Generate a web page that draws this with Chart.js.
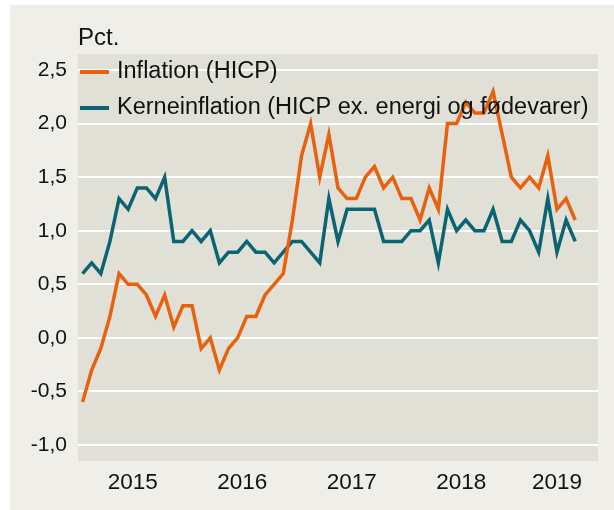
<!DOCTYPE html>
<html>
<head>
<meta charset="utf-8">
<script src="https://cdn.jsdelivr.net/npm/chart.js@4/dist/chart.umd.min.js"></script>
<style>
  html, body { margin: 0; padding: 0; background: #fff; }
  #wrap { width: 614px; height: 510px; }
</style>
</head>
<body>
<div id="wrap"><canvas id="chart" width="614" height="510"></canvas></div>
<script>
// monthly axis Jan 2015 - Sep 2019, data runs to Jul 2019
const firstYear = 2015;
const monthCount = 57;
const months = [];
for (let i = 0; i < monthCount; i++) {
	months.push((firstYear + Math.floor(i / 12)) + "-" + String(i % 12 + 1).padStart(2, "0"));
}

const inflation = [
	-0.6, -0.3, -0.1, 0.2, 0.6, 0.5, 0.5, 0.4, 0.2, 0.4, 0.1, 0.3,
	0.3, -0.1, 0.0, -0.3, -0.1, 0.0, 0.2, 0.2, 0.4, 0.5, 0.6, 1.1,
	1.7, 2.0, 1.5, 1.9, 1.4, 1.3, 1.3, 1.5, 1.6, 1.4, 1.5, 1.3,
	1.3, 1.1, 1.4, 1.2, 2.0, 2.0, 2.2, 2.1, 2.1, 2.3, 1.9, 1.5,
	1.4, 1.5, 1.4, 1.7, 1.2, 1.3, 1.1
];
const coreInflation = [
	0.6, 0.7, 0.6, 0.9, 1.3, 1.2, 1.4, 1.4, 1.3, 1.5, 0.9, 0.9,
	1.0, 0.9, 1.0, 0.7, 0.8, 0.8, 0.9, 0.8, 0.8, 0.7, 0.8, 0.9,
	0.9, 0.8, 0.7, 1.3, 0.9, 1.2, 1.2, 1.2, 1.2, 0.9, 0.9, 0.9,
	1.0, 1.0, 1.1, 0.7, 1.2, 1.0, 1.1, 1.0, 1.0, 1.2, 0.9, 0.9,
	1.1, 1.0, 0.8, 1.3, 0.8, 1.1, 0.9
];
const seriesNames = [ "Inflation (HICP)", "Kerneinflation (HICP ex. energi og fødevarer)" ];
const yTicks = [ -1.0, -0.5, 0.0, 0.5, 1.0, 1.5, 2.0, 2.5 ];
const unitLabel = "Pct.";

const colors = [ "#e8610f", "#0b6472" ];
const font = "'Liberation Sans', Arial, sans-serif";

// year labels sit in the middle of each year's months
const years = [];
months.forEach((m, i) => {
	const y = m.slice(0, 4);
	let g = years.find(e => e.label === y);
	if (!g) { g = { label: y, first: i, last: i }; years.push(g); }
	g.last = i;
});
const yearCenters = years.map(g => ({ value: (g.first + g.last) / 2, label: g.label }));

const toPoints = arr => arr.map((v, i) => ({ x: i, y: v }));

const backdrop = {
	id: "backdrop",
	beforeDraw(chart) {
		const { ctx, chartArea: a } = chart;
		ctx.save();
		ctx.fillStyle = "#ffffff";
		ctx.fillRect(0, 0, chart.width, chart.height);
		ctx.fillStyle = "#efeee8";
		ctx.fillRect(10, 5, chart.width - 10, chart.height - 5);
		ctx.fillStyle = "#e1e0d6";
		ctx.fillRect(a.left, a.top, a.right - a.left, a.bottom - a.top);
		ctx.fillStyle = "#111";
		ctx.font = "24px " + font;
		ctx.textBaseline = "middle";
		ctx.fillText(unitLabel, a.left, 38);
		ctx.restore();
	}
};

const inlineLegend = {
	id: "inlineLegend",
	afterDatasetsDraw(chart) {
		const { ctx, chartArea: a } = chart;
		ctx.save();
		ctx.font = "23.5px " + font;
		ctx.textBaseline = "middle";
		seriesNames.forEach((name, i) => {
			const y = 72 + i * 36;
			ctx.strokeStyle = colors[i];
			ctx.lineWidth = 4;
			ctx.beginPath();
			ctx.moveTo(a.left + 2, y);
			ctx.lineTo(a.left + 31, y);
			ctx.stroke();
			ctx.fillStyle = "#111";
			ctx.fillText(name, a.left + 39, y);
		});
		ctx.restore();
	}
};

new Chart(document.getElementById("chart").getContext("2d"), {
	type: "line",
	data: {
		datasets: [
			{ label: seriesNames[0], data: toPoints(inflation), borderColor: colors[0] },
			{ label: seriesNames[1], data: toPoints(coreInflation), borderColor: colors[1] }
		]
	},
	options: {
		responsive: false,
		animation: false,
		layout: { padding: { left: 10, top: 54, right: 16, bottom: 0 } },
		elements: {
			line: { borderWidth: 3.5, tension: 0, borderJoinStyle: "miter" },
			point: { radius: 0 }
		},
		plugins: { legend: { display: false }, tooltip: { enabled: false } },
		scales: {
			x: {
				type: "linear",
				min: -0.5,
				max: monthCount - 0.5,
				afterFit: s => { s.height = 49; },
				afterBuildTicks: s => { s.ticks = yearCenters.map(t => ({ value: t.value })); },
				grid: { display: false, drawTicks: false },
				border: { display: false },
				ticks: {
					autoSkip: false,
					maxRotation: 0,
					padding: 8,
					color: "#111",
					font: { family: font, size: 22.5 },
					callback: (v, i) => yearCenters[i].label
				}
			},
			y: {
				min: -1.15,
				max: 2.65,
				afterFit: s => { s.width = 68; },
				afterBuildTicks: s => { s.ticks = yTicks.map(v => ({ value: v })); },
				grid: { color: "#ffffff", lineWidth: 2, drawTicks: false },
				border: { display: false },
				ticks: {
					padding: 11,
					color: "#111",
					font: { family: font, size: 21 },
					callback: v => v.toFixed(1).replace(".", ",")
				}
			}
		}
	},
	plugins: [ backdrop, inlineLegend ]
});
</script>
</body>
</html>
